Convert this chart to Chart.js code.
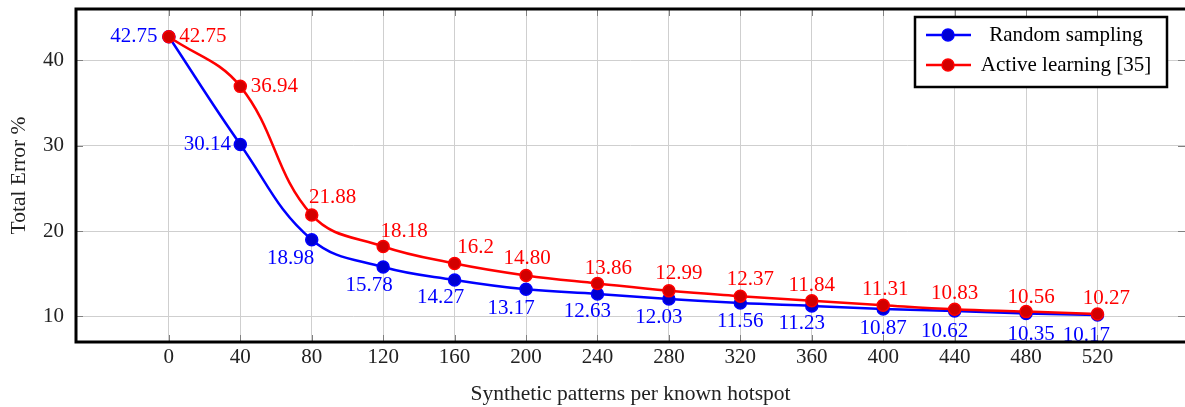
<!DOCTYPE html>
<html>
<head>
<meta charset="utf-8">
<script src="https://cdn.jsdelivr.net/npm/chart.js@4.4.1/dist/chart.umd.min.js"></script>
<style>
  html, body { margin: 0; padding: 0; background: #fff; }
  #wrap { width: 1185px; height: 407px; position: relative; }
</style>
</head>
<body>
<div id="wrap"><canvas id="c"></canvas></div>
<script>
// data
const xValues = [0, 40, 80, 120, 160, 200, 240, 280, 320, 360, 400, 440, 480, 520];
const yTicks = [10, 20, 30, 40];
const randomText = ['42.75', '30.14', '18.98', '15.78', '14.27', '13.17', '12.63', '12.03', '11.56', '11.23', '10.87', '10.62', '10.35', '10.17'];
const activeText = ['42.75', '36.94', '21.88', '18.18', '16.2', '14.80', '13.86', '12.99', '12.37', '11.84', '11.31', '10.83', '10.56', '10.27'];
const seriesNames = ['Random sampling', 'Active learning [35]'];

// label placement (dx, dy in px from the point)
const blueOffsets = [[-35,0],[-33,0],[-21,19],[-14,18],[-14,18],[-15,19],[-10,18],[-10,18],[0,18],[-10,18],[0,20],[-10,20],[5,21],[-11,21]];
const redOffsets = [[34,0],[34,0],[21,-17],[21,-15],[21,-16],[1,-17],[11,-15],[10,-17],[10,-17],[0,-15],[2,-16],[0,-16],[5,-14],[9,-16]];

const FONT = '"Liberation Serif", "Times New Roman", serif';
Chart.defaults.font.family = FONT;
Chart.defaults.font.size = 21;
Chart.defaults.color = '#222';

const toPoints = texts => texts.map((s, i) => ({ x: xValues[i], y: parseFloat(s) }));

// no extra room for tick labels, the plot box is fixed
function noPad(s) {
  s.paddingTop = 0; s.paddingBottom = 0; s.paddingLeft = 0; s.paddingRight = 0;
}

// border, inner tick marks and value labels
const decorPlugin = {
  id: 'decor',
  afterLayout(chart) {
    // plot box runs right up to the canvas edge (chart.js leaves a few px free)
    const xs = chart.scales.x;
    chart.chartArea.right = chart.width;
    chart.chartArea.width = chart.width - chart.chartArea.left;
    xs.right = chart.width;
    xs.width = xs.right - xs.left;
    xs.configure();
  },
  afterDatasetsDraw(chart) {
    const ctx = chart.ctx;
    const a = chart.chartArea;
    const xs = chart.scales.x, ys = chart.scales.y;
    ctx.save();
    // small ticks inside
    ctx.strokeStyle = '#808080';
    ctx.lineWidth = 1;
    ctx.beginPath();
    xValues.forEach(v => {
      const px = Math.round(xs.getPixelForValue(v)) + 0.5;
      ctx.moveTo(px, a.bottom); ctx.lineTo(px, a.bottom - 7);
      ctx.moveTo(px, a.top); ctx.lineTo(px, a.top + 7);
    });
    yTicks.forEach(v => {
      const py = Math.round(ys.getPixelForValue(v)) + 0.5;
      ctx.moveTo(a.left, py); ctx.lineTo(a.left + 7, py);
      ctx.moveTo(a.right, py); ctx.lineTo(a.right - 7, py);
    });
    ctx.stroke();

    // value labels
    ctx.font = '21px ' + FONT;
    ctx.textAlign = 'center';
    ctx.textBaseline = 'middle';
    const sets = [[0, randomText, blueOffsets, 'rgb(0,0,255)'], [1, activeText, redOffsets, 'rgb(255,0,0)']];
    sets.forEach(([di, texts, offs, col]) => {
      const meta = chart.getDatasetMeta(di);
      ctx.fillStyle = col;
      meta.data.forEach((pt, i) => {
        ctx.fillText(texts[i], pt.x + offs[i][0], pt.y + offs[i][1]);
      });
    });

    // frame (right side runs off the picture, as in the original)
    ctx.strokeStyle = '#000';
    ctx.lineWidth = 3;
    ctx.strokeRect(a.left, a.top, a.right - a.left + 10, a.bottom - a.top);
    ctx.restore();
  },
  afterDraw(chart) {
    // legend box in the upper right corner
    const ctx = chart.ctx;
    const bx = 915, by = 17, bw = 252, bh = 70;
    ctx.save();
    ctx.fillStyle = '#fff';
    ctx.fillRect(bx, by, bw, bh);
    ctx.strokeStyle = '#000';
    ctx.lineWidth = 2.5;
    ctx.strokeRect(bx, by, bw, bh);
    ctx.font = '21px ' + FONT;
    ctx.textAlign = 'center';
    ctx.textBaseline = 'middle';
    chart.data.datasets.forEach((ds, i) => {
      const y = by + 18 + i * 30;
      ctx.strokeStyle = ds.borderColor;
      ctx.lineWidth = 2.5;
      ctx.beginPath(); ctx.moveTo(926, y); ctx.lineTo(971, y); ctx.stroke();
      ctx.fillStyle = ds.pointBackgroundColor;
      ctx.beginPath(); ctx.arc(948, y, 6, 0, Math.PI * 2); ctx.fill();
      ctx.lineWidth = 1.5;
      ctx.stroke();
      ctx.fillStyle = '#000';
      ctx.fillText(ds.label, 1066, y);
    });
    ctx.restore();
  }
};

new Chart(document.getElementById('c'), {
  type: 'line',
  data: {
    datasets: [
      {
        label: seriesNames[0],
        data: toPoints(randomText),
        borderColor: 'rgb(0,0,255)',
        pointBackgroundColor: 'rgb(0,0,210)',
        pointBorderColor: 'rgb(0,0,255)',
        borderWidth: 2.5,
        pointRadius: 6,
        pointBorderWidth: 1.5,
        tension: 0.4,
        order: 2
      },
      {
        label: seriesNames[1],
        data: toPoints(activeText),
        borderColor: 'rgb(255,0,0)',
        pointBackgroundColor: 'rgb(210,0,0)',
        pointBorderColor: 'rgb(255,0,0)',
        borderWidth: 2.5,
        pointRadius: 6,
        pointBorderWidth: 1.5,
        tension: 0.4,
        order: 1
      }
    ]
  },
  options: {
    responsive: true,
    maintainAspectRatio: false,
    animation: false,
    layout: { padding: { top: 9, right: 0, left: 0, bottom: 0 } },
    plugins: { legend: { display: false }, tooltip: { enabled: false } },
    scales: {
      x: {
        type: 'linear',
        min: -52,
        max: 569,
        afterBuildTicks: s => { s.ticks = xValues.map(v => ({ value: v })); },
        afterFit: s => { s.height = 65; noPad(s); },
        grid: { color: '#cfcfcf', lineWidth: 1, drawTicks: false },
        border: { display: false },
        ticks: { padding: 3, maxRotation: 0, autoSkip: false },
        title: { display: true, text: 'Synthetic patterns per known hotspot', font: { size: 21.5 }, padding: { top: 0, bottom: 0 } }
      },
      y: {
        min: 7,
        max: 46,
        afterBuildTicks: s => { s.ticks = yTicks.map(v => ({ value: v })); },
        afterFit: s => { s.width = 76; noPad(s); },
        grid: { color: '#cfcfcf', lineWidth: 1, drawTicks: false },
        border: { display: false },
        ticks: { padding: 12 },
        title: { display: true, text: 'Total Error %', font: { size: 21.5 }, padding: { top: 6, bottom: 0 } }
      }
    }
  },
  plugins: [decorPlugin]
});
</script>
</body>
</html>
